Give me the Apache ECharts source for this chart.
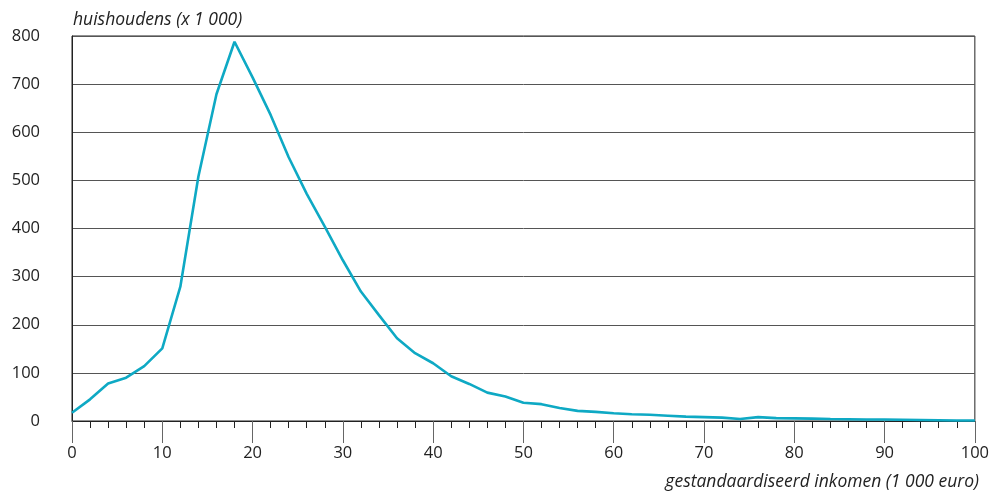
<!DOCTYPE html>
<html>
<head>
<meta charset="utf-8">
<script src="https://cdn.jsdelivr.net/npm/echarts@6/dist/echarts.min.js"></script>
<style>
html,body{margin:0;padding:0;background:#fff;}
#chart{width:992px;height:493px;}
</style>
</head>
<body>
<div id="chart"></div>
<script>
const incomes = [0,2,4,6,8,10,12,14,16,18,20,22,24,26,28,30,32,34,36,38,40,42,44,46,48,50,52,54,56,58,60,62,64,66,68,70,72,74,76,78,80,82,84,86,88,90,92,94,96,98,100];
const households = [17,45,78,90,114,151,279,508,679,788,714,636,548,472,404,334,269,220,172,141,120,93,77,59,51,38,35,27,21,19,16,14,13,11,9,8,7,4,8,6,5.5,5,4,3.5,3,3,2.5,2,1.5,1,1];
const yTitle = 'huishoudens (x 1 000)';
const xTitle = 'gestandaardiseerd inkomen (1 000 euro)';

const font = '"Open Sans", "Noto Sans", sans-serif';
const chart = echarts.init(document.getElementById('chart'), null, {renderer: 'canvas'});
chart.setOption({
  animation: false,
  backgroundColor: '#fff',
  grid: {left: 72, right: 14, top: 36, bottom: 72, show: true, borderColor: '#222', borderWidth: 1},
  graphic: [
    {type: 'text', left: 73, top: 11, style: {text: yTitle, font: 'italic 17.5px ' + font, fill: '#222'}},
    {type: 'text', right: 13, top: 473, style: {text: xTitle, font: 'italic 17.5px ' + font, fill: '#222'}}
  ],
  xAxis: {
    type: 'value', min: 0, max: 100, interval: 10,
    axisLine: {show: true, lineStyle: {color: '#222', width: 1}},
    axisTick: {show: true, length: 22, lineStyle: {color: '#666', width: 1}},
    minorTick: {show: true, splitNumber: 5, length: 7, lineStyle: {color: '#222', width: 1}},
    axisLabel: {fontFamily: font, fontSize: 16.5, color: '#222', margin: 24},
    splitLine: {show: false}
  },
  yAxis: {
    type: 'value', min: 0, max: 800, interval: 100,
    axisLine: {show: true, lineStyle: {color: '#222', width: 1}},
    axisTick: {show: false},
    axisLabel: {fontFamily: font, fontSize: 16.5, color: '#222', margin: 32},
    splitLine: {show: true, lineStyle: {color: '#555', width: 1}}
  },
  series: [{
    type: 'line',
    data: incomes.map((x, i) => [x, households[i]]),
    showSymbol: false,
    lineStyle: {color: '#0ea9c4', width: 2.6},
    itemStyle: {color: '#0ea9c4'}
  }]
});
</script>
</body>
</html>
